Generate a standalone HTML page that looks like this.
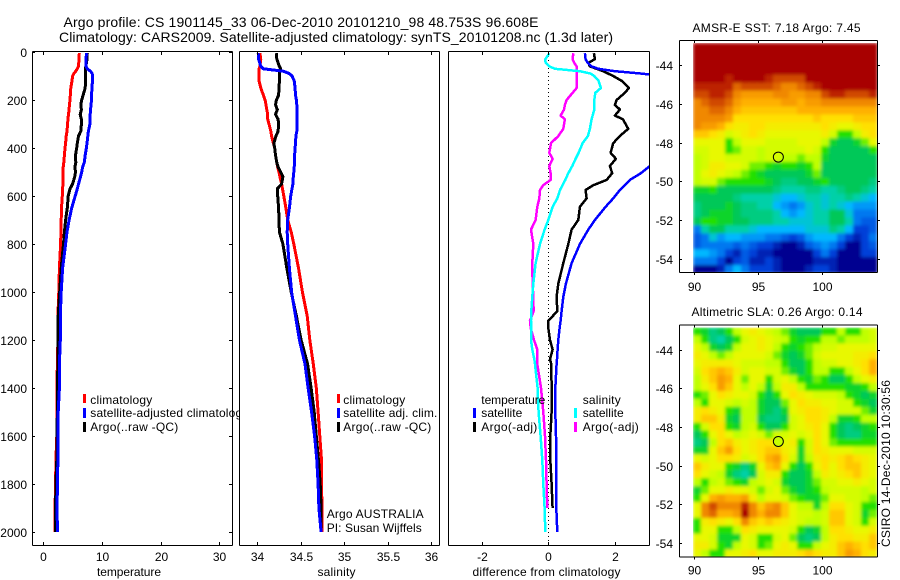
<!DOCTYPE html>
<html lang="en">
<head>
<meta charset="utf-8">
<title>Argo profile</title>
<style>
html,body{margin:0;padding:0;background:#fff;}
svg{display:block;font-family:"Liberation Sans",sans-serif;}
text{font-size:12px;fill:#000;}
</style>
</head>
<body>
<svg id="fig" xmlns="http://www.w3.org/2000/svg" width="900" height="580" viewBox="0 0 900 580">
<defs>
<filter id="smooth" x="0" y="0" width="100%" height="100%"><feGaussianBlur stdDeviation="1.5" edgeMode="duplicate"/></filter>
<clipPath id="clip-temp"><rect x="32" y="52" width="207" height="494"/></clipPath>
<clipPath id="clip-sal"><rect x="239" y="52" width="200" height="494"/></clipPath>
<clipPath id="clip-diff"><rect x="448" y="52" width="201" height="494"/></clipPath>
<clipPath id="clip-legend"><rect x="80" y="390" width="159" height="50"/></clipPath>
<clipPath id="clip-sst"><rect x="693" y="43" width="184" height="230"/></clipPath>
<clipPath id="clip-sla"><rect x="693" y="327" width="184" height="230"/></clipPath>
</defs>
<g>
<text x="63.5" y="27" font-size="14" style="font-size:14px" textLength="475" lengthAdjust="spacing">Argo profile: CS 1901145_33 06-Dec-2010 20101210_98 48.753S 96.608E</text>
<text x="59" y="42" style="font-size:14px" textLength="554" lengthAdjust="spacing">Climatology: CARS2009. Satellite-adjusted climatology: synTS_20101208.nc (1.3d later)</text>
</g>
<text x="692.5" y="32" textLength="168" lengthAdjust="spacing">AMSR-E SST: 7.18 Argo: 7.45</text>
<text x="691.5" y="316" textLength="171" lengthAdjust="spacing">Altimetric SLA: 0.26 Argo: 0.14</text>
<text transform="translate(890,547) rotate(-90)" textLength="167" lengthAdjust="spacing">CSIRO 14-Dec-2010 10:30:56</text>

<text x="97" y="576" textLength="64" lengthAdjust="spacing">temperature</text>
<text x="317.5" y="576" textLength="38" lengthAdjust="spacing">salinity</text>
<text x="472.5" y="576" textLength="148" lengthAdjust="spacing">difference from climatology</text>

<g id="g-temp"></g>
<g id="g-sal"></g>
<g id="g-diff"></g>
<g id="g-sst"></g>
<g id="g-sla"></g>

<g>
<rect x="83" y="394" width="3" height="9" fill="#f00"/><rect x="83" y="408" width="3" height="10" fill="#00f"/><rect x="83" y="422" width="3" height="10" fill="#000"/>
<text x="90.3" y="404" textLength="62" lengthAdjust="spacing">climatology</text>
<g clip-path="url(#clip-legend)"><text x="90.3" y="417" textLength="158" lengthAdjust="spacing">satellite-adjusted climatology</text></g>
<text x="90.3" y="431" textLength="88" lengthAdjust="spacing">Argo(..raw -QC)</text>
</g>
<g>
<rect x="337" y="394" width="3" height="9" fill="#f00"/><rect x="337" y="408" width="3" height="10" fill="#00f"/><rect x="337" y="422" width="3" height="10" fill="#000"/>
<text x="343.3" y="404" textLength="62" lengthAdjust="spacing">climatology</text>
<text x="343.3" y="417" textLength="94" lengthAdjust="spacing">satellite adj. clim.</text>
<text x="343.3" y="431" textLength="88" lengthAdjust="spacing">Argo(..raw -QC)</text>
</g>
<g>
<text x="326.7" y="518" textLength="97" lengthAdjust="spacing">Argo AUSTRALIA</text>
<text x="326.7" y="532" textLength="95" lengthAdjust="spacing">PI: Susan Wijffels</text>
</g>
<g>
<text x="481.3" y="404" textLength="64" lengthAdjust="spacing">temperature</text>
<rect x="473" y="408" width="3" height="10" fill="#00f"/><rect x="473" y="422" width="3" height="10" fill="#000"/>
<text x="481.3" y="417" textLength="41" lengthAdjust="spacing">satellite</text>
<text x="481.3" y="431" textLength="56" lengthAdjust="spacing">Argo(-adj)</text>
<text x="582.7" y="404" textLength="38" lengthAdjust="spacing">salinity</text>
<rect x="574" y="408" width="3" height="10" fill="#0ff"/><rect x="574" y="422" width="3" height="10" fill="#f0f"/>
<text x="582.7" y="417" textLength="41" lengthAdjust="spacing">satellite</text>
<text x="582.7" y="431" textLength="56" lengthAdjust="spacing">Argo(-adj)</text>
</g>
</svg>
<script>
const depths = [5,30,60,70,80,90,100,120,150,180,200,220,240,260,280,300,330,350,380,400,430,460,480,500,520,550,570,600,650,700,750,800,900,1000,1100,1200,1300,1400,1500,1600,1700,1800,1900,2000];
const tempClim = [6.14,6.1,6.0,5.8,5.55,5.2,5.0,4.9,4.7,4.6,4.55,4.45,4.4,4.3,4.2,4.15,4.05,3.9,3.8,3.7,3.6,3.5,3.4,3.4,3.35,3.35,3.3,3.25,3.1,3.05,3.0,2.95,2.75,2.65,2.5,2.5,2.4,2.3,2.3,2.3,2.15,2.1,2.0,2.0];
const tempSat = [7.35,7.3,7.3,7.5,8.05,8.35,8.4,8.4,8.3,8.25,8.2,8.15,8.05,8.0,7.95,7.95,7.7,7.6,7.45,7.35,7.15,7.0,6.7,6.55,6.35,6.0,5.8,5.45,4.85,4.4,4.05,3.8,3.3,3.05,2.9,2.9,2.75,2.75,2.55,2.5,2.5,2.4,2.35,2.4];
const tempArgo = [7.5,7.45,7.25,7.2,7.2,7.2,7.2,7.2,7.15,6.8,6.55,6.4,6.5,6.3,6.5,6.5,6.4,6.0,5.8,5.7,5.5,5.55,5.4,5.5,5.35,5.0,4.55,4.25,4.1,3.8,3.6,3.45,3.05,2.8,2.55,2.5,2.5,2.4,2.4,2.3,2.3,2.15,2.1,2.1];
const salClim = [34.03,34.04,34.03,34.02,34.02,34.02,34.02,34.02,34.04,34.07,34.09,34.10,34.11,34.12,34.12,34.135,34.155,34.165,34.185,34.2,34.21,34.225,34.235,34.25,34.26,34.28,34.29,34.305,34.33,34.35,34.39,34.42,34.475,34.52,34.575,34.605,34.645,34.68,34.7,34.72,34.74,34.74,34.745,34.745];
const salSat = [34.01,34.015,34.04,34.07,34.30,34.37,34.4,34.425,34.435,34.44,34.45,34.455,34.46,34.46,34.46,34.46,34.455,34.445,34.44,34.435,34.43,34.43,34.425,34.42,34.415,34.41,34.4,34.385,34.37,34.35,34.345,34.35,34.37,34.395,34.44,34.485,34.55,34.585,34.625,34.66,34.685,34.7,34.71,34.735];
const salArgo = [34.22,34.225,34.255,34.27,34.255,34.255,34.255,34.255,34.25,34.245,34.22,34.21,34.23,34.21,34.24,34.245,34.24,34.215,34.19,34.2,34.21,34.225,34.24,34.27,34.295,34.28,34.23,34.235,34.245,34.25,34.255,34.295,34.34,34.39,34.45,34.505,34.58,34.62,34.655,34.68,34.705,34.725,34.735,34.735];
const diffDepths = [5,30,45,60,70,80,90,100,120,150,170,200,220,240,265,280,320,350,380,420,445,475,505,533,555,575,610,645,700,740,800,880,965,1020,1080,1120,1150,1200,1240,1280,1300,1400,1500,1600,1700,1800,1900,2000];
const diffTempSat = [1.1,1.12,1.18,1.3,1.5,2.0,2.8,3.4,3.5,3.6,3.65,3.65,3.7,3.65,3.7,3.75,3.7,3.7,3.65,3.6,3.5,3.05,2.78,2.45,2.3,2.15,1.95,1.72,1.4,1.2,0.95,0.7,0.53,0.45,0.4,0.37,0.34,0.3,0.28,0.26,0.25,0.21,0.21,0.23,0.24,0.24,0.24,0.27];
const diffTempArgo = [1.37,1.4,1.2,1.25,1.45,1.65,1.8,1.95,2.2,2.42,2.3,2.05,2.0,2.15,2.0,2.24,2.4,2.15,1.95,1.87,2.03,1.85,1.92,1.75,1.35,1.12,1.15,0.95,0.9,0.7,0.6,0.45,0.3,0.25,0.27,0,0,0.05,0.13,0.05,0.09,0.1,0.1,0.06,0.06,0.1,0.13,null];
const diffSalSat = [0.03,-0.09,-0.08,0.03,0.2,0.95,1.27,1.38,1.51,1.58,1.41,1.38,1.38,1.38,1.33,1.3,1.25,1.19,1.03,0.91,0.82,0.72,0.6,0.51,0.43,0.35,0.27,0.13,0,-0.11,-0.25,-0.38,-0.45,-0.48,-0.51,-0.52,-0.52,-0.52,-0.48,-0.42,-0.4,-0.32,-0.29,-0.23,-0.18,-0.15,-0.11,-0.09];
const diffSalArgo = [0.75,0.73,0.78,0.85,0.86,0.86,0.86,0.86,0.86,0.85,0.73,0.55,0.5,0.47,0.37,0.5,0.45,0.3,0.08,0.03,0.13,0.03,0.07,0.07,-0.15,-0.25,-0.27,-0.33,-0.38,-0.52,-0.45,-0.48,-0.47,-0.45,-0.44,-0.55,-0.53,-0.43,-0.33,-0.33,-0.33,-0.22,-0.15,-0.1,-0.07,-0.05,-0.03,null];
const depthTicks = [0,200,400,600,800,1000,1200,1400,1600,1800,2000];
const tempTicks = [0,10,20,30];
const salTicks = [34,34.5,35,35.5,36];
const salTickLabels = ['34','34.5','35','35.5','36'];
const diffTicks = [-2,0,2];
const lonTicks = [90,95,100];
const latTicks = [-44,-46,-48,-50,-52,-54];
const floatLon = 96.6;
const floatLat = -48.75;
const sstLevels = [
[13,13,13,13,13,13,13,13,13,13,13,13,13,13,13,13,13,13,13,13,13,13,13],
[13,13,13,13,13,13,13,13,13,13,13,13,13,13,13,13,13,13,13,13,13,13,13],
[13,13,13,13,13,13,13,13,13,13,13,13,13,13,13,13,13,13,13,13,13,13,13],
[13,13,13,13,13,13,13,13,13,13,13,13,13,13,13,13,13,13,13,13,13,13,13],
[13,13,13,13,12.5,13,13,13,13,12.5,12,12,12,12,13,13,13,13,13,13,13,13,13],
[12.5,12.5,12.5,12.5,12.5,11.5,12,12,12,12,11.5,11,11,11.5,12,12.5,13,13,13,13,13,13,13],
[12,12,12.5,12.5,12,11,10.5,10.5,10.5,10.5,11,11,10.5,10.5,11,11,12,12.5,12.5,12,12,12,12.5],
[11,11.5,12,12,11.5,10.5,10,10,10,10,10,10.5,10.5,10,10.5,10.5,11,11,11,11,11,11,11],
[11,11,11.5,11.5,11,10,9.5,9.5,9.5,9.5,9.5,9.5,9.5,10,10,10,10,10,10,10,10,10,10],
[11,11,11,11,10.5,9,9,9,9,9,9,9,9,9,9,9.5,9,9,9,9,9.5,9.5,9.5],
[11,10.5,10.5,10,9,8.5,8.5,9,9,8.5,8.5,8.5,8.5,8.5,8.5,8.5,9,8.5,8,8,8.5,9,9],
[9.5,9.5,9,8.5,7.5,8,8.5,9,8.5,8,8,8,8,8,8,8,8.5,7.5,6,6,7,8.5,9],
[8,8,8,8,6,7,8,8,8,7.5,7.5,7.5,7.5,8,8,8,7,5.5,5,5,5.5,6.5,8],
[7.5,7.5,8,8,6,6.5,7.5,7.5,7,7.5,7.5,7.5,7.5,7.5,8,7.5,6,5,5,5,5,5,6],
[7,7.5,8,8,7.5,7.5,7.5,7.5,7,7.5,7.5,7,7,6.5,7,7,5.5,5,5,5,5,5,5],
[7,7.5,8.5,8.5,8,8,7.5,6.5,6.5,6,5.5,6,6,5.5,6,7,5,5,5,5,5,5,5],
[7,8,8.5,8,7.5,7,6.5,6,5.5,5,5,5,5,5,5.5,6.5,5,5,5,5,5,5,5],
[7,7.5,7.5,6.5,6,6,6,6,6,5.5,5,4.5,4.5,5,5,5.5,6,5,5,5,5,5,4.5],
[5.5,5.5,6,5,5,5,5,5,5,5,4.5,4,4,4,4.5,4.5,4,4,4.5,5,5,4.5,4],
[5,5,5,5,5,4.5,4,4,4,4,3.5,3,3,3.5,4,4,3.5,4,4,4.5,4,3.5,3],
[4.5,5,5,5,5.5,5,4.5,4.5,4,4,3,2.5,2,2.5,3.5,4,3.5,4,3.5,3,2.5,2.5,2.5],
[4.5,5,5.5,5.5,5.5,5,4.5,4.5,4.5,4.5,4,3,2.5,3,3.5,4,4,5,5,3.5,2,2,2],
[5,6,6,5.5,5.5,5,5,4.5,4.5,4.5,4,4,3.5,3.5,3.5,4,4,5,5,4,2,1.5,1.5],
[2,4,5,5,4,4,4,3.5,3,3,3,3,3,3,3.5,3.5,3.5,4.5,4,3,1,1,1.5],
[1.5,2,3.5,2.5,3,3,2.5,2.5,2.5,2,2,1.5,1,1.5,2.5,3,3,3,2,1,0.5,1,2],
[1.5,2,2,2,2,1.5,2,1.5,1,1,0.5,0,0,0.5,1.5,2,2.5,2,1,0,0,1,1.5],
[3,3,2.5,2,1,0.5,1.5,1,0.5,0.5,0,0,0,0,0,1,2,1,0,0,0,1,1],
[2,2,2,1,0,1,1.5,0.5,0.5,1,0.5,0,0,0,0,0.5,0.5,0.5,0,0,0,0,0],
[0,0,0,0.5,2,3,2,1,1,1,0.5,0,0,0,0.5,1,1,0.5,0,0,0,0,0]
];
const slaLevels = [
[6,5.5,4.5,5,6,7,8,8.5,8,7.5,7,6.5,5.5,5,5,5,6,6,7,6,6,7,7.5],
[7,6,4.5,4,5,6,7.5,8,8.5,8,7.5,7,6,5.5,6,6,7,7,6.5,7,7,7,7.5],
[8,7,5.5,5,5.5,7,8,8,8.5,8,7,6,5.5,6,6.5,7,7.5,7.5,8,8,8,8,8],
[8.5,8,7,6.5,7,8,8,8,8,7.5,6.5,5.5,5,5.5,6.5,7.5,8,8,8,8,8.5,8.5,9],
[8,8.5,8.5,8.5,8.5,8,7.5,7.5,7.5,7,7,6,5,5,6,7,7.5,7.5,8,8,8.5,9,10],
[7.5,9,9.5,10,9.5,8.5,7.5,8,8,7.5,7.5,6.5,5.5,5,6,7,7,6,6,7,8,9,10],
[7,8.5,9.5,10.5,10,8,6.5,8,8,6,7.5,8,7,6,5.5,6.5,6,5,5,6,7,8,8.5],
[7,8,9,10.5,9.5,8,7,8,7,5.5,7,8.5,8.5,7,6,6,6,6,6,5.5,5.5,6,7],
[6,6.5,8,9,8.5,8,8,7.5,6,5,6,8,9,8.5,8,7.5,7.5,7.5,7,6,5.5,5,5.5],
[7,6,8,8,7.5,7,7.5,7,5.5,5,5,6.5,8,9,8.5,8.5,8,8,7.5,7.5,6,5.5,5],
[8.5,9,8.5,8,6,5.5,7,7,5.5,5,4.5,5.5,8,8.5,9,9,8.5,8,7.5,7.5,7.5,6.5,5.5],
[8.5,9.5,9.5,8.5,5.5,5,7,7,5,4.5,4.5,5,7.5,8,9,9,8.5,7,5.5,5.5,6,7,7],
[6,7.5,9,9,6,5.5,7,7.5,6,5,5,6,7.5,8,8.5,9,8,6,5,4.5,5,5.5,6],
[5,6,8,9,8,7,7.5,8,7.5,6.5,7.5,7.5,8,7.5,8,9,8,6,5,4.5,4.5,5.5,5.5],
[4.5,5,7,9,9.5,8.5,8,8.5,9,9,8,8,8.5,6,7.5,9,8,6.5,6,6,6,6,6],
[5.5,5.5,8,9.5,10.5,9,8,8.5,9,9.5,9.5,8.5,8,5.5,7.5,9,8.5,8,8,8,7.5,7.5,7.5],
[8,7.5,8,9,9,8.5,7.5,8,9,10,10.5,9,7.5,5.5,7,8.5,9,8.5,9,9.5,9,8.5,8],
[9.5,8.5,8,8,6,5.5,4.5,5.5,8,9.5,10,8,6,5,6,8,9,8,9,9.5,9.5,8.5,8],
[9,8,7.5,7,5.5,4.5,4,5,7.5,8.5,8.5,6,5,5,5.5,7,8.5,8,8.5,9,9.5,8.5,8],
[7,6,7,7.5,6.5,6,5.5,7,7.5,8,7.5,5.5,5,5,5.5,6.5,7.5,7.5,8,8,8.5,8,7.5],
[5.5,6.5,8,8,8.5,8,8,7.5,6.5,7.5,8,6.5,5.5,5,5.5,6,7,7.5,7.5,7.5,7.5,7,7.5],
[6,8,10,10.5,10,10,10.5,8.5,7,8,8,7.5,6.5,6,5.5,5.5,6.5,8,8,7.5,7.5,7,6.5],
[8,11,12,11,11,11,12.5,11,9.5,10.5,11,9.5,8,7,7,5.5,7,9,9,8,7.5,6,6],
[8,11,11.5,10,10,10.5,13,11,10,11,11,9.5,8,7.5,7.5,7,7.5,9.5,9.5,8,7.5,5.5,6.5],
[6,8.5,9,8.5,8,9,11,9.5,9,9.5,9,8.5,8,7.5,7,7,7.5,9.5,9.5,8,7.5,6,7.5],
[6,8,8,6,6,7,9,8.5,8,8,8,8,7.5,6,5,5.5,7,9,9,8.5,8,8,8.5],
[8,8,7.5,5.5,5.5,5.5,8,7.5,6,6,7.5,8,6.5,5,4.5,5,7,8.5,9,9,8.5,8.5,9.5],
[8.5,8.5,7.5,6,5.5,7,8,7.5,6,6.5,8,8.5,8,6,6,7,8,8.5,9.5,10,9.5,9,9.5],
[8,7,6,6,8,8,8.5,9,8,8,8.5,8.5,8.5,9,9.5,9,8.5,8.5,9.5,10.5,10,9,8.5]
];
const colorStops = ['#000090','#0040d8','#0078f0','#00b8ff','#00d0a8','#00c858','#20e000','#c0ff00','#e8f800','#ffe000','#ffb000','#f08800','#d04800','#a80000'];

const NS = 'http://www.w3.org/2000/svg';
function mk(tag, parent, attrs) {
  const el = document.createElementNS(NS, tag);
  for (const k in attrs) el.setAttribute(k, attrs[k]);
  parent.appendChild(el);
  return el;
}
const yDepth = d => 52 + d * 0.24;
const xTemp = v => 43.3 + v * 5.86;
const xSal = v => 257.3 + (v - 34) * 86.8;
const xDiff = v => 548.3 + v * 33.3;

function hexToRgb(h) {
  return [parseInt(h.slice(1,3),16), parseInt(h.slice(3,5),16), parseInt(h.slice(5,7),16)];
}
function levelColor(v) {
  const i = Math.max(0, Math.min(colorStops.length - 2, Math.floor(v)));
  const t = Math.max(0, Math.min(1, v - i));
  const a = hexToRgb(colorStops[i]);
  const b = hexToRgb(colorStops[i + 1]);
  return 'rgb(' + a.map((c, k) => Math.round(c + (b[k] - c) * t)).join(',') + ')';
}
function line(parent, x1, y1, x2, y2) {
  const el = mk('line', parent, {x1: x1, y1: y1, x2: x2, y2: y2, stroke: '#000', 'stroke-width': 1, 'shape-rendering': 'crispEdges'});
  
  
  return el;
}
function label(parent, x, y, s, anchor) {
  const el = mk('text', parent, {x: x, y: y, 'text-anchor': anchor});
  el.textContent = s;
  
  
  return el;
}
function drawProfile(parent, clipId, name, color, width, ds, vals, xf) {
  let pts = [];
  ds.forEach((d, i) => { if (vals[i] !== null) pts.push(xf(vals[i]).toFixed(1) + ',' + yDepth(d).toFixed(1)); });
  const el = mk('polyline', parent, {points: pts.join(' '), fill: 'none', stroke: color, 'stroke-width': width, 'shape-rendering': 'crispEdges', 'clip-path': 'url(#' + clipId + ')', 'stroke-linejoin': 'round'});
  
  
}
function frame(parent, x0, x1, top, bottom) {
  line(parent, x0 + 0.5, top + 0.5, x1 + 0.5, top + 0.5);
  line(parent, x0 + 0.5, bottom + 0.5, x1 + 0.5, bottom + 0.5);
  line(parent, x0 + 0.5, top + 0.5, x0 + 0.5, bottom + 0.5);
  line(parent, x1 + 0.5, top + 0.5, x1 + 0.5, bottom + 0.5);
}
function profileAxes(parent, x0, x1, ticks, labels, xf, withDepth) {
  frame(parent, x0, x1, 51, 545);
  ticks.forEach((t, i) => {
    const x = Math.round(xf(t)) + 0.5;
    line(parent, x, 52, x, 55);
    line(parent, x, 545, x, 542);
    label(parent, x, 561, labels[i], 'middle');
  });
  if (withDepth) {
    depthTicks.forEach(d => {
      const y = Math.round(yDepth(d)) + 0.5;
      line(parent, x0, y, x0 + 3, y);
      line(parent, x1, y, x1 - 3, y);
      label(parent, 27, y + 4.5, String(d), 'end');
    });
  }
}

const gTemp = document.getElementById('g-temp');
drawProfile(gTemp, 'clip-temp', 'temperature-climatology-line', '#f00', 3, depths, tempClim, xTemp);
drawProfile(gTemp, 'clip-temp', 'temperature-argo-line', '#000', 3, depths, tempArgo, xTemp);
drawProfile(gTemp, 'clip-temp', 'temperature-satellite-line', '#00f', 3, depths, tempSat, xTemp);
profileAxes(gTemp, 32, 232, tempTicks, tempTicks.map(String), xTemp, true);

const gSal = document.getElementById('g-sal');
drawProfile(gSal, 'clip-sal', 'salinity-climatology-line', '#f00', 3, depths, salClim, xSal);
drawProfile(gSal, 'clip-sal', 'salinity-argo-line', '#000', 3, depths, salArgo, xSal);
drawProfile(gSal, 'clip-sal', 'salinity-satellite-line', '#00f', 3, depths, salSat, xSal);
profileAxes(gSal, 239, 439, salTicks, salTickLabels, xSal, false);

const gDiff = document.getElementById('g-diff');
const zeroLine = mk('line', gDiff, {x1: xDiff(0), y1: 52, x2: xDiff(0), y2: 545, stroke: '#000', 'stroke-width': 1, 'stroke-dasharray': '1 3', 'shape-rendering': 'crispEdges'});


drawProfile(gDiff, 'clip-diff', 'difference-salinity-argo-line', '#f0f', 2.5, diffDepths, diffSalArgo, xDiff);
drawProfile(gDiff, 'clip-diff', 'difference-salinity-satellite-line', '#0ff', 2.5, diffDepths, diffSalSat, xDiff);
drawProfile(gDiff, 'clip-diff', 'difference-temperature-argo-line', '#000', 2.5, diffDepths, diffTempArgo, xDiff);
drawProfile(gDiff, 'clip-diff', 'difference-temperature-satellite-line', '#00f', 2.5, diffDepths, diffTempSat, xDiff);
profileAxes(gDiff, 448, 649, diffTicks, diffTicks.map(String), xDiff, false);

function drawMap(parent, clipId, cellName, levels, top, lat44, markerFill, labelY) {
  const holder = mk('g', parent, {'clip-path': 'url(#' + clipId + ')'});
  const cells = mk('g', holder, {filter: 'url(#smooth)'});
  const nRows = levels.length;
  const nCols = levels[0].length;
  const cw = 184 / nCols;
  const ch = 230 / nRows;
  levels.forEach((row, r) => {
    row.forEach((v, c) => {
      const cell = mk('rect', cells, {x: (693 + c * cw).toFixed(2), y: (top + r * ch).toFixed(2), width: (cw + 0.6).toFixed(2), height: (ch + 0.6).toFixed(2), fill: levelColor(v)});
      
      
    });
  });
  const xLon = lon => 694 + (lon - 90) * 12.78;
  const yLat = lat => lat44 + (-44 - lat) * 19.32;
  frame(parent, 679, 877, top - 3, top + 229);
  lonTicks.forEach(lon => {
    const x = Math.round(xLon(lon)) + 0.5;
    line(parent, x, top + 229.5, x, top + 232);
    line(parent, x, top - 2.5, x, top);
    label(parent, x, labelY, String(lon), 'middle');
  });
  latTicks.forEach(lat => {
    const y = Math.round(yLat(lat)) + 0.5;
    line(parent, 679, y, 682, y);
    line(parent, 877, y, 880, y);
    label(parent, 673, y + 4.5, String(lat), 'end');
  });
  const marker = mk('circle', parent, {cx: xLon(floatLon), cy: yLat(floatLat), r: 5, fill: markerFill, stroke: '#000', 'stroke-width': 1});
  
  
}
drawMap(document.getElementById('g-sst'), 'clip-sst', 'sst-cell', sstLevels, 43, 65.3, 'none', 291);
drawMap(document.getElementById('g-sla'), 'clip-sla', 'sla-cell', slaLevels, 327.5, 349.7, '#c8ff00', 574.5);
</script>
</body>
</html>
